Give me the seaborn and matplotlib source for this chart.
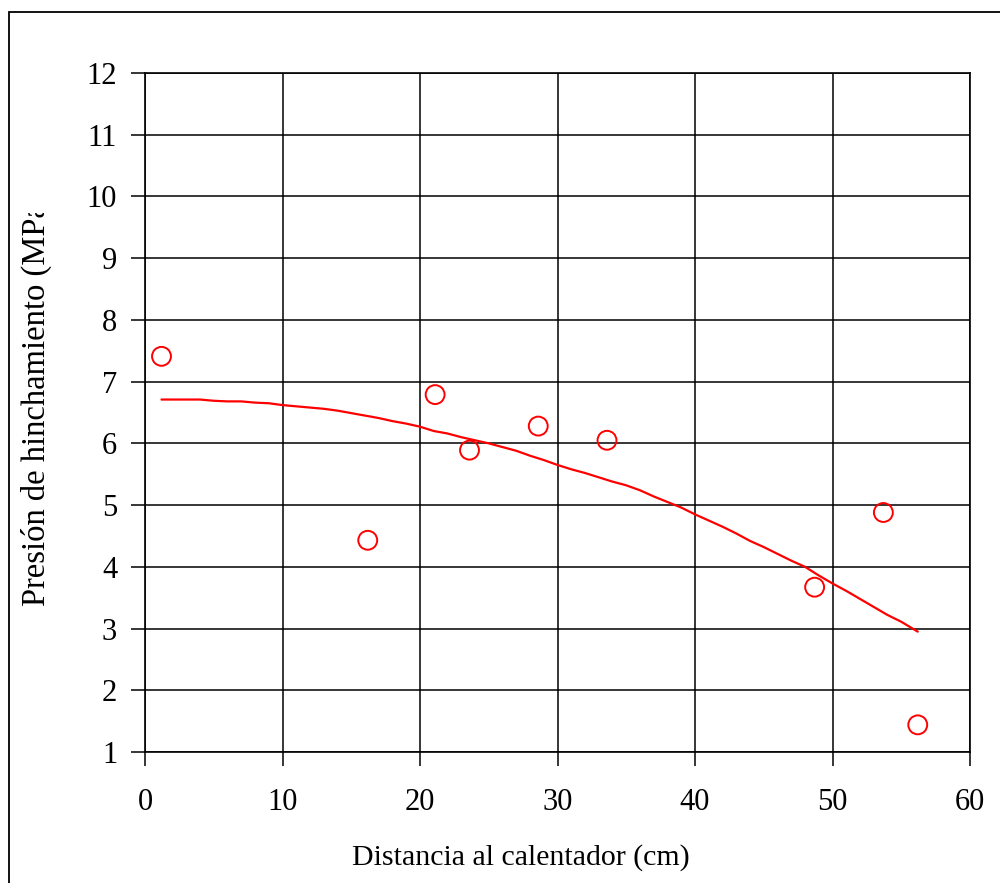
import matplotlib
matplotlib.use("Agg")
import matplotlib.pyplot as plt
from matplotlib.patches import Rectangle
import seaborn as sns
import pandas as pd

# Measured swelling pressure (points)
dist_meas = [1.2, 16.2, 21.1, 23.6, 28.6, 33.6, 48.7, 53.7, 56.2]
pres_meas = [7.41, 4.43, 6.79, 5.89, 6.28, 6.05, 3.67, 4.88, 1.44]

# Model curve
dist_model = [1.2, 2, 3, 4, 5, 6, 7, 8, 9, 10, 11, 12, 13, 14, 15, 16, 17, 18,
              19, 20, 21, 22, 23, 24, 25, 26, 27, 28, 29, 30, 31, 32, 33, 34,
              35, 36, 37, 38, 39, 40, 41, 42, 43, 44, 45, 46, 47, 48, 49, 50,
              51, 52, 53, 54, 55, 56.2]
pres_model = [6.71, 6.71, 6.71, 6.71, 6.69, 6.68, 6.68, 6.66, 6.65, 6.62, 6.60,
              6.58, 6.56, 6.53, 6.49, 6.45, 6.41, 6.36, 6.32, 6.27, 6.20, 6.16,
              6.10, 6.05, 6.00, 5.94, 5.88, 5.80, 5.73, 5.65, 5.58, 5.52, 5.45,
              5.38, 5.32, 5.24, 5.14, 5.05, 4.96, 4.85, 4.75, 4.65, 4.54, 4.42,
              4.32, 4.21, 4.10, 4.00, 3.86, 3.73, 3.61, 3.48, 3.35, 3.22, 3.11,
              2.95]

x_ticks = [0, 10, 20, 30, 40, 50, 60]
y_ticks = list(range(1, 13))

meas = pd.DataFrame({"d": dist_meas, "p": pres_meas})
model = pd.DataFrame({"d": dist_model, "p": pres_model})

sns.set_style("white")
plt.rcParams["font.family"] = ["Liberation Serif", "DejaVu Serif"]
plt.rcParams["text.color"] = "black"

W, H = 1000, 883
fig = plt.figure(figsize=(W / 100, H / 100), dpi=100)
ax = fig.add_axes([145 / W, 1 - 752 / H, (970 - 145) / W, (752 - 73) / H])

sns.lineplot(data=model, x="d", y="p", ax=ax, color="#ff0000", lw=1.6,
             sort=False, zorder=3)
sns.scatterplot(data=meas, x="d", y="p", ax=ax, marker="o", s=185,
                facecolor="none", edgecolor="#ff0000", linewidth=1.4,
                zorder=4)

ax.set_xlim(0, 60)
ax.set_ylim(1, 12)
ax.set_xticks(x_ticks)
ax.set_yticks(y_ticks)
ax.grid(True, color="black", lw=1.1)
for s in ax.spines.values():
    s.set_color("black")
    s.set_linewidth(1.2)
ax.tick_params(axis="both", which="both", direction="out", length=10,
               width=1.1, color="black", labelsize=22, labelcolor="black",
               bottom=True, left=True, top=False, right=False)
ax.tick_params(axis="x", pad=16)
ax.tick_params(axis="y", pad=10)
ax.set_xlabel("")
ax.set_ylabel("")

fig.text(521 / W, 1 - 858 / H, "Distancia al calentador (cm)", ha="center",
         va="center", fontsize=21.5, color="black")

# Y title is cut off at the top edge of its text box
ylab = fig.text(36 / W, 1 - 606 / H, "Presión de hinchamiento (MPa)",
                rotation=90, ha="center", va="bottom", fontsize=23.5,
                color="black")
clip_rect = Rectangle((0, 0), 1, 1 - 213 / H, transform=fig.transFigure,
                      visible=False)
ylab.set_clip_on(True)
ylab.set_clip_path(clip_rect)

# Outer frame around the chart area
fig.patches.append(Rectangle((9 / W, -0.05), 1.2, 1 - 12 / H + 0.05,
                             transform=fig.transFigure, fill=False,
                             edgecolor="black", lw=1.3))

fig.savefig("out.png", dpi=100)
